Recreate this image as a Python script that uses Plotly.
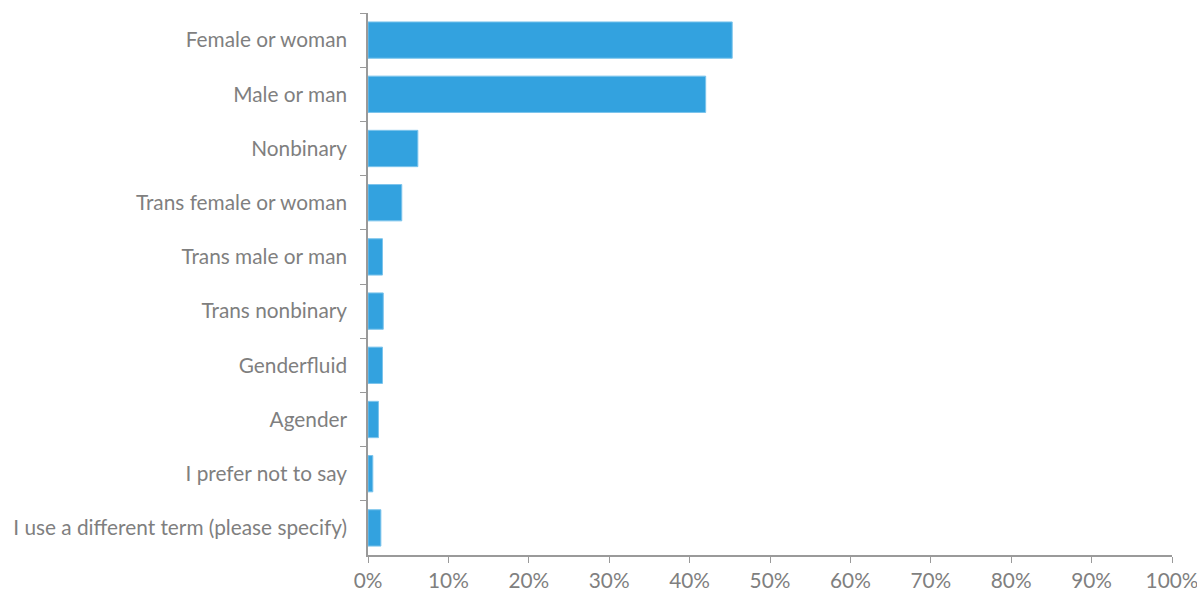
import plotly.graph_objects as go

categories = [
    "Female or woman",
    "Male or man",
    "Nonbinary",
    "Trans female or woman",
    "Trans male or man",
    "Trans nonbinary",
    "Genderfluid",
    "Agender",
    "I prefer not to say",
    "I use a different term (please specify)",
]
values = [45.3, 42.0, 6.2, 4.2, 1.8, 1.9, 1.8, 1.3, 0.6, 1.6]
x_ticks = [0, 10, 20, 30, 40, 50, 60, 70, 80, 90, 100]
x_tick_labels = [f"{t}%" for t in x_ticks]

fig = go.Figure(
    go.Bar(
        x=values,
        y=categories,
        orientation="h",
        marker=dict(color="#33A2DF", line=dict(color="#7CC4EC", width=1)),
        hoverinfo="x+y",
    )
)

axis_grey = "#9A9A9A"
text_grey = "#7F7F7F"

fig.update_layout(
    width=1197,
    height=591,
    margin=dict(l=368, r=25, t=13, b=36),
    plot_bgcolor="white",
    paper_bgcolor="white",
    bargap=0.33,
    showlegend=False,
    font=dict(family="Lato, 'Open Sans', sans-serif", color=text_grey, size=20.8),
    xaxis=dict(
        range=[0, 100],
        tickvals=x_ticks,
        ticktext=x_tick_labels,
        showgrid=False,
        zeroline=False,
        showline=True,
        linecolor=axis_grey,
        linewidth=1.5,
        ticks="outside",
        tickcolor=axis_grey,
        ticklen=6,
        automargin=False,
        ticklabeloverflow="allow",
        tickfont=dict(size=20.8, color=text_grey),
        fixedrange=True,
    ),
    yaxis=dict(
        autorange="reversed",
        showgrid=False,
        showline=True,
        linecolor=axis_grey,
        linewidth=1.5,
        ticks="outside",
        tickson="boundaries",
        tickcolor=axis_grey,
        ticklen=6,
        ticklabelstandoff=15,
        automargin=False,
        tickfont=dict(size=20.8, color=text_grey),
        fixedrange=True,
    ),
)

fig.write_html(
    "out.html",
    config={"displayModeBar": False},
    post_script="document.body.style.margin='0';document.body.style.overflow='hidden';",
)
